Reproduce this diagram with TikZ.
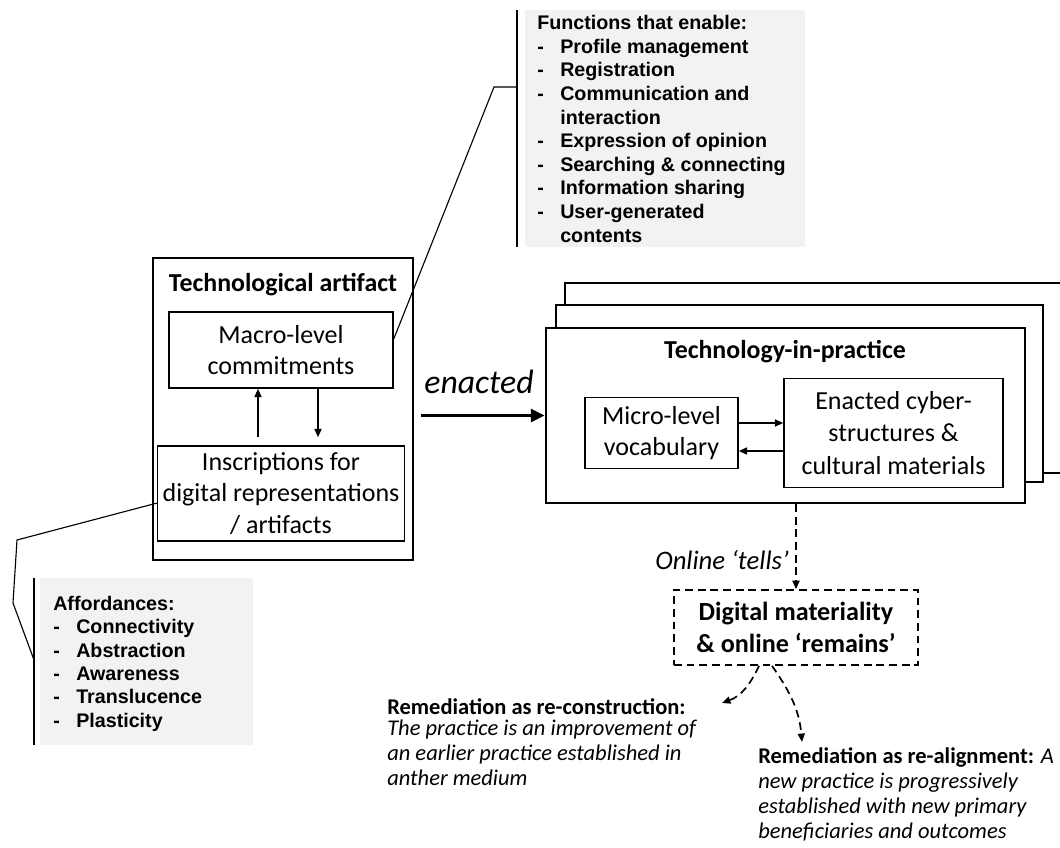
\documentclass[tikz,border=0pt]{standalone}
\usepackage{fontspec}
\setmainfont{Carlito}
\newfontfamily\arialfont{Liberation Sans}
\usetikzlibrary{arrows.meta}
\newcommand{\dashitem}{\makebox[0.575cm][l]{-}}
\newcommand{\dashgap}{\makebox[0.575cm]{}}

\begin{document}
\begin{tikzpicture}[x=0.025cm,y=-0.025cm,
  bigbox/.style={draw,line width=1.6pt,fill=white},
  smallbox/.style={draw,line width=1pt,fill=white,align=center,inner xsep=2pt,font=\fontsize{18.5}{22.4}\selectfont},
  titletext/.style={font=\bfseries\fontsize{18.4}{22}\selectfont},
  graybox/.style={fill=gray!10},
  listtext/.style={anchor=north west,inner sep=0,align=left,font=\arialfont\bfseries\fontsize{14}{16.8}\selectfont},
  remtext/.style={anchor=north west,inner sep=0,align=left,font=\fontsize{16}{17.9}\selectfont},
  arr/.style={-{Triangle[length=6pt,width=5pt]},line width=1.2pt},
  dasharr/.style={arr,dash pattern=on 5.5pt off 3.5pt}]
\useasboundingbox (0,0) rectangle (1060,848);

\draw (283,409) node[bigbox,minimum width=6.5cm,minimum height=7.55cm](art) {};
\draw (283,285) node[titletext](arttitle) {Technological artifact};
\draw (281,350) node[smallbox,minimum width=5.6cm,minimum height=1.9cm](macro) {Macro-level\\commitments};
\draw (281,493.5) node[smallbox,minimum width=6.175cm,minimum height=2.375cm](insc) {Inscriptions for\\digital representations\\/ artifacts};
\draw[arr,shorten <=0.2cm] ([xshift=-0.575cm]insc.north) -- ([xshift=-0.575cm]macro.south);
\draw[arr,shorten >=0.2cm] ([xshift=0.925cm]macro.south) -- ([xshift=0.925cm]insc.north);

\draw (822.5,378) node[bigbox,minimum width=12.875cm,minimum height=4.75cm](tipc) {};
\draw (799.5,393.5) node[bigbox,minimum width=12.175cm,minimum height=4.425cm](tipb) {};
\draw (785.5,415.5) node[bigbox,minimum width=11.975cm,minimum height=4.375cm](tipa) {};
\draw (785,352) node[titletext](tiptitle) {Technology-in-practice};
\draw (661.5,433) node[smallbox,minimum width=3.825cm,minimum height=1.775cm](micro) {Micro-level\\vocabulary};
\draw (893.5,433) node[smallbox,minimum width=5.475cm,minimum height=2.725cm,font=\fontsize{18.5}{22.8}\selectfont](cyber) {Enacted cyber-\\structures \&\\cultural materials};
\draw[arr] ([yshift=0.25cm]micro.east) -- ([yshift=0.25cm]cyber.west);
\draw[arr] ([yshift=-0.45cm]cyber.west) -- ([yshift=-0.45cm]micro.east);

\draw (479,382) node[font=\itshape\fontsize{24}{27}\selectfont](enact) {enacted};
\draw[-{Triangle[length=10pt,width=9pt]},line width=2.8pt,shorten <=0.175cm] (art.east |- tipa.west) -- (tipa.west);

\draw (796,627.5) node[draw,line width=1.2pt,dash pattern=on 5.5pt off 3.5pt,minimum width=6.1cm,minimum height=1.875cm,align=center,font=\bfseries\fontsize{18.6}{22.8}\selectfont](digi) {Digital materiality\\\& online ‘remains’};
\draw[dasharr] (tipa.south -| digi.north) -- (digi.north);
\draw (789,560) node[anchor=east,inner sep=0,font=\itshape\fontsize{19}{22}\selectfont](tells) {Online ‘tells’};

\coordinate (rc) at (722,703);
\coordinate (ra) at (802,742);
\draw[dasharr] ([xshift=-0.925cm]digi.south) to[out=-115,in=20] (rc);
\draw[dasharr] ([xshift=-0.6cm]digi.south) to[out=-55,in=95] (ra);
\draw (387,698) node[remtext](recon) {\textbf{Remediation as re-construction:}\\[-3pt]\textit{The practice is an improvement of}\\\textit{an earlier practice established in}\\\textit{anther medium}};
\draw (758,747) node[remtext](realign) {\textbf{Remediation as re-alignment:} \textit{A}\\\textit{new practice is progressively}\\\textit{established with new primary}\\\textit{beneficiaries and outcomes}};

\draw (665,128.5) node[graybox,minimum width=7cm,minimum height=5.925cm](func) {};
\coordinate (ftop) at (517,10);
\coordinate (fbot) at (517,247);
\draw[line width=1pt] (ftop) -- (fbot);
\draw (537,15) node[listtext](functxt) {Functions that enable:\\\dashitem Profile management\\\dashitem Registration\\\dashitem Communication and\\\dashgap interaction\\\dashitem Expression of opinion\\\dashitem Searching \& connecting\\\dashitem Information sharing\\\dashitem User-generated\\\dashgap contents};
\coordinate (fk) at (494,87);
\draw[line width=0.8pt] ([yshift=0.275cm]macro.east) -- (fk) -- (fk -| ftop);

\draw (146.5,661.5) node[graybox,minimum width=5.325cm,minimum height=4.175cm](aff) {};
\coordinate (atop) at (34,578);
\coordinate (abot) at (34,745);
\draw[line width=1pt] (atop) -- (abot);
\draw (53,596) node[listtext,font=\arialfont\bfseries\fontsize{14}{16.6}\selectfont](afftxt) {Affordances:\\\dashitem Connectivity\\\dashitem Abstraction\\\dashitem Awareness\\\dashitem Translucence\\\dashitem Plasticity};
\coordinate (ak1) at (17,540);
\coordinate (ak2) at (13,603);
\coordinate (ak3) at (34,660);
\draw[line width=0.8pt] ([yshift=-0.24cm]insc.west) -- (ak1) -- (ak2) -- (ak3);
\end{tikzpicture}
\end{document}
